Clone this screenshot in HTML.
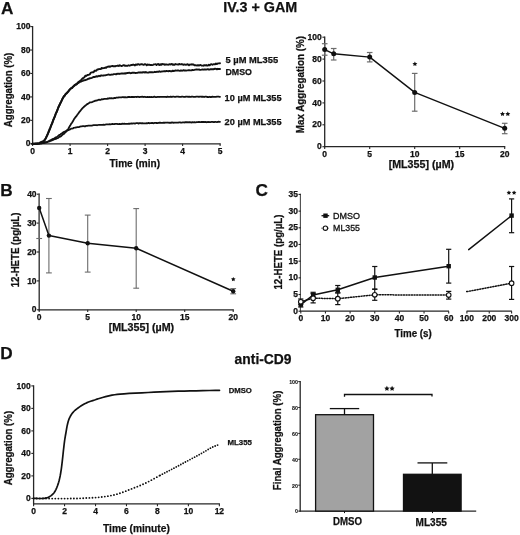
<!DOCTYPE html>
<html><head><meta charset="utf-8"><style>
html,body{margin:0;padding:0;background:#fff;}
svg{display:block;font-family:"Liberation Sans", sans-serif;will-change:transform;}
</style></head><body>
<svg width="520" height="535" viewBox="0 0 520 535">
<rect width="520" height="535" fill="#fff"/>
<text x="1.00" y="13.60" font-size="17.2" font-weight="bold" fill="#111"  stroke="#111" stroke-width="0.25">A</text>
<text x="0.20" y="195.60" font-size="17.2" font-weight="bold" fill="#111"  stroke="#111" stroke-width="0.25">B</text>
<text x="255.60" y="195.60" font-size="17.2" font-weight="bold" fill="#111"  stroke="#111" stroke-width="0.25">C</text>
<text x="0.30" y="359.00" font-size="17.2" font-weight="bold" fill="#111"  stroke="#111" stroke-width="0.25">D</text>
<text x="223.30" y="12.10" font-size="14.7" font-weight="bold" textLength="74.00" lengthAdjust="spacingAndGlyphs" fill="#111"  stroke="#111" stroke-width="0.25">IV.3 + GAM</text>
<text x="234.60" y="363.80" font-size="14.5" font-weight="bold" textLength="57.00" lengthAdjust="spacingAndGlyphs" fill="#111"  stroke="#111" stroke-width="0.25">anti-CD9</text>
<line x1="32.60" y1="26.00" x2="32.60" y2="144.40" stroke="#262626" stroke-width="1.3" />
<line x1="32.00" y1="143.80" x2="220.70" y2="143.80" stroke="#262626" stroke-width="1.3" />
<line x1="30.30" y1="143.80" x2="32.60" y2="143.80" stroke="#262626" stroke-width="1.1" />
<text x="30.40" y="146.40" font-size="8.5" font-weight="bold" text-anchor="end" fill="#111"  stroke="#111" stroke-width="0.25">0</text>
<line x1="30.30" y1="120.36" x2="32.60" y2="120.36" stroke="#262626" stroke-width="1.1" />
<text x="30.40" y="122.96" font-size="8.5" font-weight="bold" text-anchor="end" fill="#111"  stroke="#111" stroke-width="0.25">20</text>
<line x1="30.30" y1="96.92" x2="32.60" y2="96.92" stroke="#262626" stroke-width="1.1" />
<text x="30.40" y="99.52" font-size="8.5" font-weight="bold" text-anchor="end" fill="#111"  stroke="#111" stroke-width="0.25">40</text>
<line x1="30.30" y1="73.48" x2="32.60" y2="73.48" stroke="#262626" stroke-width="1.1" />
<text x="30.40" y="76.08" font-size="8.5" font-weight="bold" text-anchor="end" fill="#111"  stroke="#111" stroke-width="0.25">60</text>
<line x1="30.30" y1="50.04" x2="32.60" y2="50.04" stroke="#262626" stroke-width="1.1" />
<text x="30.40" y="52.64" font-size="8.5" font-weight="bold" text-anchor="end" fill="#111"  stroke="#111" stroke-width="0.25">80</text>
<line x1="30.30" y1="26.60" x2="32.60" y2="26.60" stroke="#262626" stroke-width="1.1" />
<text x="30.40" y="29.20" font-size="8.5" font-weight="bold" text-anchor="end" fill="#111"  stroke="#111" stroke-width="0.25">100</text>
<line x1="32.60" y1="143.80" x2="32.60" y2="146.10" stroke="#262626" stroke-width="1.1" />
<text x="32.60" y="153.90" font-size="8.5" font-weight="bold" text-anchor="middle" fill="#111"  stroke="#111" stroke-width="0.25">0</text>
<line x1="70.10" y1="143.80" x2="70.10" y2="146.10" stroke="#262626" stroke-width="1.1" />
<text x="70.10" y="153.90" font-size="8.5" font-weight="bold" text-anchor="middle" fill="#111"  stroke="#111" stroke-width="0.25">1</text>
<line x1="107.60" y1="143.80" x2="107.60" y2="146.10" stroke="#262626" stroke-width="1.1" />
<text x="107.60" y="153.90" font-size="8.5" font-weight="bold" text-anchor="middle" fill="#111"  stroke="#111" stroke-width="0.25">2</text>
<line x1="145.10" y1="143.80" x2="145.10" y2="146.10" stroke="#262626" stroke-width="1.1" />
<text x="145.10" y="153.90" font-size="8.5" font-weight="bold" text-anchor="middle" fill="#111"  stroke="#111" stroke-width="0.25">3</text>
<line x1="182.60" y1="143.80" x2="182.60" y2="146.10" stroke="#262626" stroke-width="1.1" />
<text x="182.60" y="153.90" font-size="8.5" font-weight="bold" text-anchor="middle" fill="#111"  stroke="#111" stroke-width="0.25">4</text>
<line x1="220.10" y1="143.80" x2="220.10" y2="146.10" stroke="#262626" stroke-width="1.1" />
<text x="220.10" y="153.90" font-size="8.5" font-weight="bold" text-anchor="middle" fill="#111"  stroke="#111" stroke-width="0.25">5</text>
<text x="134.70" y="166.80" font-size="10.3" font-weight="bold" text-anchor="middle" textLength="50.60" lengthAdjust="spacingAndGlyphs" fill="#111"  stroke="#111" stroke-width="0.25">Time (min)</text>
<text x="12.30" y="89.95" font-size="10" font-weight="bold" text-anchor="middle" textLength="74.50" lengthAdjust="spacingAndGlyphs" transform="rotate(-90 12.30 89.95)" fill="#111"  stroke="#111" stroke-width="0.25">Aggregation (%)</text>
<polyline points="32.40,143.80 33.30,143.79 34.20,143.78 35.10,143.77 36.00,143.76 36.90,143.74 37.80,143.72 38.70,143.68 39.60,143.63 40.50,143.41 41.40,143.44 42.30,143.19 43.20,143.10 44.10,142.89 45.00,142.38 45.90,142.13 46.80,142.30 47.70,141.73 48.60,141.41 49.50,141.47 50.40,140.87 51.30,140.72 52.20,140.20 53.10,139.93 54.00,139.33 54.90,139.22 55.80,138.97 56.70,138.42 57.60,138.14 58.50,137.69 59.40,136.92 60.30,136.74 61.20,136.05 62.10,135.19 63.00,134.27 63.90,133.89 64.80,132.88 65.70,132.13 66.60,131.23 67.50,129.99 68.40,128.73 69.30,126.96 70.20,125.61 71.10,123.92 72.00,122.74 72.90,121.32 73.80,119.57 74.70,118.26 75.60,117.00 76.50,116.11 77.40,114.61 78.30,113.51 79.20,112.18 80.10,111.16 81.00,109.99 81.90,108.90 82.80,107.99 83.70,107.04 84.60,106.32 85.50,105.39 86.40,104.77 87.30,104.09 88.20,103.60 89.10,102.99 90.00,102.35 90.90,102.36 91.80,102.10 92.70,101.78 93.60,101.33 94.50,101.12 95.40,100.60 96.30,100.67 97.20,100.32 98.10,99.98 99.00,99.68 99.90,99.90 100.80,99.80 101.70,99.19 102.60,99.40 103.50,99.07 104.40,98.82 105.30,98.78 106.20,98.91 107.10,98.86 108.00,98.35 108.90,98.54 109.80,98.16 110.70,98.41 111.60,98.13 112.50,98.31 113.40,98.28 114.30,97.96 115.20,98.13 116.10,97.71 117.00,97.52 117.90,97.70 118.80,97.35 119.70,97.37 120.60,97.42 121.50,97.46 122.40,97.18 123.30,97.07 124.20,97.43 125.10,97.11 126.00,97.39 126.90,97.31 127.80,97.02 128.70,97.02 129.60,97.02 130.50,97.05 131.40,97.01 132.30,96.97 133.20,96.98 134.10,97.12 135.00,96.89 135.90,96.85 136.80,96.99 137.70,96.75 138.60,96.79 139.50,97.14 140.40,96.92 141.30,96.95 142.20,96.70 143.10,96.91 144.00,97.01 144.90,96.74 145.80,97.04 146.70,97.06 147.60,96.78 148.50,97.06 149.40,96.98 150.30,97.09 151.20,96.92 152.10,97.09 153.00,97.11 153.90,96.74 154.80,96.76 155.70,97.06 156.60,97.19 157.50,96.83 158.40,96.92 159.30,96.98 160.20,96.84 161.10,96.85 162.00,96.82 162.90,96.84 163.80,96.95 164.70,96.79 165.60,96.82 166.50,97.01 167.40,96.63 168.30,96.89 169.20,96.97 170.10,96.75 171.00,96.70 171.90,96.99 172.80,96.70 173.70,96.67 174.60,96.78 175.50,96.91 176.40,96.61 177.30,96.72 178.20,96.72 179.10,96.97 180.00,96.77 180.90,96.97 181.80,96.63 182.70,96.71 183.60,96.87 184.50,96.98 185.40,96.76 186.30,96.65 187.20,96.60 188.10,96.80 189.00,96.63 189.90,96.94 190.80,96.96 191.70,96.63 192.60,96.67 193.50,96.94 194.40,96.86 195.30,96.94 196.20,96.71 197.10,96.60 198.00,96.68 198.90,96.93 199.80,96.67 200.70,96.71 201.60,96.75 202.50,96.75 203.40,96.74 204.30,97.00 205.20,96.62 206.10,96.54 207.00,97.01 207.90,96.98 208.80,97.04 209.70,96.76 210.60,97.02 211.50,97.01 212.40,96.66 213.30,96.92 214.20,96.97 215.10,96.88 216.00,96.81 216.90,96.69 217.80,96.72 218.70,96.66 219.60,96.80 220.00,96.80" fill="none" stroke="#111" stroke-width="1.8" stroke-linejoin="round" stroke-linecap="round" />
<polyline points="32.40,143.80 33.30,143.79 34.20,143.78 35.10,143.78 36.00,143.77 36.90,143.75 37.80,143.73 38.70,143.69 39.60,143.63 40.50,143.32 41.40,143.45 42.30,143.12 43.20,143.17 44.10,142.53 45.00,142.70 45.90,142.33 46.80,142.15 47.70,141.78 48.60,141.39 49.50,140.80 50.40,140.08 51.30,139.99 52.20,139.24 53.10,138.83 54.00,138.53 54.90,137.95 55.80,137.37 56.70,137.08 57.60,136.33 58.50,135.59 59.40,134.92 60.30,134.60 61.20,133.78 62.10,133.32 63.00,132.53 63.90,131.90 64.80,131.56 65.70,131.24 66.60,130.50 67.50,130.42 68.40,130.10 69.30,129.68 70.20,129.35 71.10,128.62 72.00,128.63 72.90,128.48 73.80,127.83 74.70,127.72 75.60,127.50 76.50,127.44 77.40,127.21 78.30,127.06 79.20,127.06 80.10,126.52 81.00,126.41 81.90,126.32 82.80,126.20 83.70,126.06 84.60,126.41 85.50,126.25 86.40,125.78 87.30,125.90 88.20,125.72 89.10,125.63 90.00,125.58 90.90,125.65 91.80,125.55 92.70,125.37 93.60,125.22 94.50,125.22 95.40,125.06 96.30,125.21 97.20,125.23 98.10,125.00 99.00,124.79 99.90,124.78 100.80,124.81 101.70,124.86 102.60,124.89 103.50,124.62 104.40,124.77 105.30,124.62 106.20,124.46 107.10,124.37 108.00,124.38 108.90,124.43 109.80,124.23 110.70,124.32 111.60,124.15 112.50,124.00 113.40,124.10 114.30,124.14 115.20,123.80 116.10,123.94 117.00,123.91 117.90,124.11 118.80,124.12 119.70,123.81 120.60,124.05 121.50,123.98 122.40,123.70 123.30,123.78 124.20,123.59 125.10,123.91 126.00,123.81 126.90,123.90 127.80,123.83 128.70,123.74 129.60,123.74 130.50,123.63 131.40,123.38 132.30,123.59 133.20,123.28 134.10,123.32 135.00,123.61 135.90,123.22 136.80,123.21 137.70,123.19 138.60,123.56 139.50,123.18 140.40,123.08 141.30,123.47 142.20,123.08 143.10,123.42 144.00,123.31 144.90,123.37 145.80,123.41 146.70,123.21 147.60,123.30 148.50,122.90 149.40,123.25 150.30,123.10 151.20,123.18 152.10,122.86 153.00,123.16 153.90,123.23 154.80,122.78 155.70,122.89 156.60,122.99 157.50,123.10 158.40,122.79 159.30,122.74 160.20,122.75 161.10,122.92 162.00,122.97 162.90,122.77 163.80,122.73 164.70,122.73 165.60,122.69 166.50,122.70 167.40,122.52 168.30,122.71 169.20,122.92 170.10,122.63 171.00,122.78 171.90,122.46 172.80,122.71 173.70,122.73 174.60,122.67 175.50,122.57 176.40,122.54 177.30,122.60 178.20,122.71 179.10,122.32 180.00,122.28 180.90,122.59 181.80,122.65 182.70,122.44 183.60,122.38 184.50,122.51 185.40,122.22 186.30,122.25 187.20,122.20 188.10,122.38 189.00,122.23 189.90,122.17 190.80,122.38 191.70,122.50 192.60,122.16 193.50,122.34 194.40,122.18 195.30,122.39 196.20,122.24 197.10,122.06 198.00,122.03 198.90,121.91 199.80,122.13 200.70,122.06 201.60,121.94 202.50,122.02 203.40,121.99 204.30,122.20 205.20,121.87 206.10,122.28 207.00,122.01 207.90,122.05 208.80,121.97 209.70,122.14 210.60,122.12 211.50,121.97 212.40,121.92 213.30,122.02 214.20,122.08 215.10,121.83 216.00,121.98 216.90,122.08 217.80,121.82 218.70,121.69 219.60,121.81 220.00,121.80" fill="none" stroke="#111" stroke-width="1.8" stroke-linejoin="round" stroke-linecap="round" />
<polyline points="32.40,143.80 33.30,143.81 34.20,143.82 35.10,143.82 36.00,143.79 36.90,143.71 37.80,143.56 38.70,143.34 39.60,143.03 40.50,142.46 41.40,142.40 42.30,141.97 43.20,141.70 44.10,141.01 45.00,139.66 45.90,138.17 46.80,136.22 47.70,134.05 48.60,132.25 49.50,130.05 50.40,127.78 51.30,125.08 52.20,123.26 53.10,120.62 54.00,118.44 54.90,116.40 55.80,113.70 56.70,111.48 57.60,109.78 58.50,107.24 59.40,105.26 60.30,103.48 61.20,101.71 62.10,99.49 63.00,98.05 63.90,96.61 64.80,95.33 65.70,93.98 66.60,93.19 67.50,92.45 68.40,91.09 69.30,90.28 70.20,89.10 71.10,88.36 72.00,87.80 72.90,86.59 73.80,86.33 74.70,85.57 75.60,84.30 76.50,84.24 77.40,83.27 78.30,83.02 79.20,82.52 80.10,81.74 81.00,81.57 81.90,81.15 82.80,80.91 83.70,80.24 84.60,80.31 85.50,80.16 86.40,79.70 87.30,79.34 88.20,78.76 89.10,78.69 90.00,78.20 90.90,78.10 91.80,77.79 92.70,77.45 93.60,76.92 94.50,77.01 95.40,76.78 96.30,76.26 97.20,76.58 98.10,76.26 99.00,75.74 99.90,76.17 100.80,75.50 101.70,75.51 102.60,75.67 103.50,75.48 104.40,75.34 105.30,75.31 106.20,75.08 107.10,74.88 108.00,74.68 108.90,74.51 109.80,74.87 110.70,74.81 111.60,74.57 112.50,74.62 113.40,74.26 114.30,74.11 115.20,74.10 116.10,74.36 117.00,73.70 117.90,73.94 118.80,73.68 119.70,73.96 120.60,73.60 121.50,73.51 122.40,73.48 123.30,73.51 124.20,73.60 125.10,73.24 126.00,73.52 126.90,72.94 127.80,72.99 128.70,72.82 129.60,72.77 130.50,73.19 131.40,73.10 132.30,72.68 133.20,72.64 134.10,72.75 135.00,72.94 135.90,72.95 136.80,72.86 137.70,72.71 138.60,72.36 139.50,72.50 140.40,72.32 141.30,72.51 142.20,72.50 143.10,72.22 144.00,72.22 144.90,72.57 145.80,72.03 146.70,72.54 147.60,72.58 148.50,72.58 149.40,72.15 150.30,72.22 151.20,72.19 152.10,72.17 153.00,72.36 153.90,72.10 154.80,71.77 155.70,72.10 156.60,71.78 157.50,71.80 158.40,71.83 159.30,71.27 160.20,71.74 161.10,71.61 162.00,71.44 162.90,71.40 163.80,71.31 164.70,71.07 165.60,71.26 166.50,70.86 167.40,71.14 168.30,71.20 169.20,71.01 170.10,71.05 171.00,71.28 171.90,71.19 172.80,70.62 173.70,71.04 174.60,70.88 175.50,70.43 176.40,70.61 177.30,70.48 178.20,70.33 179.10,70.61 180.00,70.85 180.90,70.38 181.80,70.73 182.70,70.57 183.60,70.14 184.50,70.61 185.40,70.39 186.30,70.58 187.20,70.40 188.10,70.38 189.00,70.07 189.90,70.35 190.80,70.40 191.70,70.32 192.60,69.98 193.50,70.17 194.40,69.94 195.30,69.64 196.20,69.56 197.10,69.54 198.00,69.59 198.90,69.52 199.80,69.72 200.70,69.82 201.60,69.67 202.50,69.55 203.40,69.68 204.30,69.40 205.20,69.47 206.10,69.64 207.00,69.36 207.90,69.17 208.80,69.64 209.70,69.48 210.60,69.20 211.50,69.18 212.40,69.26 213.30,69.28 214.20,68.99 215.10,68.80 216.00,68.92 216.90,69.29 217.80,68.82 218.70,69.01 219.60,69.01 220.00,69.00" fill="none" stroke="#111" stroke-width="1.9" stroke-linejoin="round" stroke-linecap="round" />
<polyline points="32.40,143.80 33.30,143.81 34.20,143.82 35.10,143.82 36.00,143.79 36.90,143.71 37.80,143.56 38.70,143.34 39.60,143.03 40.50,142.31 41.40,141.93 42.30,141.49 43.20,141.28 44.10,140.40 45.00,139.32 45.90,137.96 46.80,136.02 47.70,134.26 48.60,131.62 49.50,129.27 50.40,127.44 51.30,125.15 52.20,123.22 53.10,120.26 54.00,118.39 54.90,116.12 55.80,113.47 56.70,112.28 57.60,109.23 58.50,106.94 59.40,105.33 60.30,103.05 61.20,101.72 62.10,99.67 63.00,97.75 63.90,96.16 64.80,95.59 65.70,93.94 66.60,93.45 67.50,92.09 68.40,91.65 69.30,90.03 70.20,89.09 71.10,88.26 72.00,88.03 72.90,87.02 73.80,85.93 74.70,84.91 75.60,84.84 76.50,84.44 77.40,83.35 78.30,82.05 79.20,81.43 80.10,80.83 81.00,80.19 81.90,79.21 82.80,78.22 83.70,77.81 84.60,77.10 85.50,75.61 86.40,75.96 87.30,75.04 88.20,74.98 89.10,74.60 90.00,74.09 90.90,72.57 91.80,72.39 92.70,72.26 93.60,72.18 94.50,70.78 95.40,70.56 96.30,70.74 97.20,69.52 98.10,69.43 99.00,69.02 99.90,69.08 100.80,69.06 101.70,67.97 102.60,68.35 103.50,68.12 104.40,68.02 105.30,67.51 106.20,67.72 107.10,66.91 108.00,66.78 108.90,66.41 109.80,66.87 110.70,66.42 111.60,66.09 112.50,65.89 113.40,66.41 114.30,66.21 115.20,66.27 116.10,65.85 117.00,65.91 117.90,65.49 118.80,66.06 119.70,65.25 120.60,65.70 121.50,65.97 122.40,65.84 123.30,65.16 124.20,65.26 125.10,65.89 126.00,65.62 126.90,65.83 127.80,65.77 128.70,65.25 129.60,65.68 130.50,65.45 131.40,64.95 132.30,64.93 133.20,64.55 134.10,64.85 135.00,65.40 135.90,64.41 136.80,64.87 137.70,64.32 138.60,64.24 139.50,64.82 140.40,64.34 141.30,64.10 142.20,64.20 143.10,64.75 144.00,64.70 144.90,64.11 145.80,64.39 146.70,65.25 147.60,64.46 148.50,64.86 149.40,64.71 150.30,65.10 151.20,64.90 152.10,65.08 153.00,64.78 153.90,64.37 154.80,64.33 155.70,64.19 156.60,64.98 157.50,64.16 158.40,64.04 159.30,65.04 160.20,64.17 161.10,64.91 162.00,63.99 162.90,64.39 163.80,64.11 164.70,64.76 165.60,64.51 166.50,64.53 167.40,64.66 168.30,64.77 169.20,64.19 170.10,64.47 171.00,64.29 171.90,63.92 172.80,64.72 173.70,64.46 174.60,64.71 175.50,64.04 176.40,64.42 177.30,64.34 178.20,64.64 179.10,63.94 180.00,64.25 180.90,64.42 181.80,63.99 182.70,64.54 183.60,64.76 184.50,64.44 185.40,64.71 186.30,64.69 187.20,64.29 188.10,64.47 189.00,65.21 189.90,64.51 190.80,64.64 191.70,64.29 192.60,64.47 193.50,64.44 194.40,65.31 195.30,65.13 196.20,65.33 197.10,65.50 198.00,65.13 198.90,65.52 199.80,65.13 200.70,65.04 201.60,65.66 202.50,65.63 203.40,65.70 204.30,65.19 205.20,65.49 206.10,65.05 207.00,65.65 207.90,65.50 208.80,64.73 209.70,65.35 210.60,64.43 211.50,64.22 212.40,64.79 213.30,64.20 214.20,64.32 215.10,64.31 216.00,63.49 216.90,64.10 217.80,63.40 218.70,63.39 219.60,63.28 220.00,63.20" fill="none" stroke="#111" stroke-width="1.9" stroke-linejoin="round" stroke-linecap="round" />
<text x="225.50" y="63.30" font-size="9.5" font-weight="bold" textLength="52.60" lengthAdjust="spacingAndGlyphs" fill="#111"  stroke="#111" stroke-width="0.25">5 µM ML355</text>
<text x="225.50" y="74.90" font-size="9.3" font-weight="bold" textLength="26.40" lengthAdjust="spacingAndGlyphs" fill="#111"  stroke="#111" stroke-width="0.25">DMSO</text>
<text x="224.60" y="100.50" font-size="9.5" font-weight="bold" textLength="57.00" lengthAdjust="spacingAndGlyphs" fill="#111"  stroke="#111" stroke-width="0.25">10 µM ML355</text>
<text x="224.60" y="124.60" font-size="9.5" font-weight="bold" textLength="57.00" lengthAdjust="spacingAndGlyphs" fill="#111"  stroke="#111" stroke-width="0.25">20 µM ML355</text>
<line x1="324.70" y1="36.60" x2="324.70" y2="147.30" stroke="#262626" stroke-width="1.3" />
<line x1="324.10" y1="146.70" x2="505.30" y2="146.70" stroke="#262626" stroke-width="1.3" />
<line x1="322.40" y1="146.70" x2="324.70" y2="146.70" stroke="#262626" stroke-width="1.1" />
<text x="321.80" y="149.30" font-size="8.5" font-weight="bold" text-anchor="end" fill="#111"  stroke="#111" stroke-width="0.25">0</text>
<line x1="322.40" y1="124.80" x2="324.70" y2="124.80" stroke="#262626" stroke-width="1.1" />
<text x="321.80" y="127.40" font-size="8.5" font-weight="bold" text-anchor="end" fill="#111"  stroke="#111" stroke-width="0.25">20</text>
<line x1="322.40" y1="102.90" x2="324.70" y2="102.90" stroke="#262626" stroke-width="1.1" />
<text x="321.80" y="105.50" font-size="8.5" font-weight="bold" text-anchor="end" fill="#111"  stroke="#111" stroke-width="0.25">40</text>
<line x1="322.40" y1="81.00" x2="324.70" y2="81.00" stroke="#262626" stroke-width="1.1" />
<text x="321.80" y="83.60" font-size="8.5" font-weight="bold" text-anchor="end" fill="#111"  stroke="#111" stroke-width="0.25">60</text>
<line x1="322.40" y1="59.10" x2="324.70" y2="59.10" stroke="#262626" stroke-width="1.1" />
<text x="321.80" y="61.70" font-size="8.5" font-weight="bold" text-anchor="end" fill="#111"  stroke="#111" stroke-width="0.25">80</text>
<line x1="322.40" y1="37.20" x2="324.70" y2="37.20" stroke="#262626" stroke-width="1.1" />
<text x="321.80" y="39.80" font-size="8.5" font-weight="bold" text-anchor="end" fill="#111"  stroke="#111" stroke-width="0.25">100</text>
<line x1="324.70" y1="146.70" x2="324.70" y2="149.00" stroke="#262626" stroke-width="1.1" />
<text x="324.70" y="156.80" font-size="8.5" font-weight="bold" text-anchor="middle" fill="#111"  stroke="#111" stroke-width="0.25">0</text>
<line x1="369.70" y1="146.70" x2="369.70" y2="149.00" stroke="#262626" stroke-width="1.1" />
<text x="369.70" y="156.80" font-size="8.5" font-weight="bold" text-anchor="middle" fill="#111"  stroke="#111" stroke-width="0.25">5</text>
<line x1="414.70" y1="146.70" x2="414.70" y2="149.00" stroke="#262626" stroke-width="1.1" />
<text x="414.70" y="156.80" font-size="8.5" font-weight="bold" text-anchor="middle" fill="#111"  stroke="#111" stroke-width="0.25">10</text>
<line x1="459.70" y1="146.70" x2="459.70" y2="149.00" stroke="#262626" stroke-width="1.1" />
<text x="459.70" y="156.80" font-size="8.5" font-weight="bold" text-anchor="middle" fill="#111"  stroke="#111" stroke-width="0.25">15</text>
<line x1="504.70" y1="146.70" x2="504.70" y2="149.00" stroke="#262626" stroke-width="1.1" />
<text x="504.70" y="156.80" font-size="8.5" font-weight="bold" text-anchor="middle" fill="#111"  stroke="#111" stroke-width="0.25">20</text>
<text x="421.40" y="167.50" font-size="10.6" font-weight="bold" text-anchor="middle" textLength="65.50" lengthAdjust="spacingAndGlyphs" fill="#111"  stroke="#111" stroke-width="0.25">[ML355] (µM)</text>
<text x="303.80" y="84.60" font-size="10.5" font-weight="bold" text-anchor="middle" textLength="97.20" lengthAdjust="spacingAndGlyphs" transform="rotate(-90 303.80 84.60)" fill="#111"  stroke="#111" stroke-width="0.25">Max Aggregation (%)</text>
<line x1="324.70" y1="43.70" x2="324.70" y2="55.20" stroke="#6c6c6c" stroke-width="1.2" />
<line x1="321.90" y1="43.70" x2="327.50" y2="43.70" stroke="#6c6c6c" stroke-width="1.2" />
<line x1="321.90" y1="55.20" x2="327.50" y2="55.20" stroke="#6c6c6c" stroke-width="1.2" />
<line x1="333.70" y1="48.50" x2="333.70" y2="60.00" stroke="#6c6c6c" stroke-width="1.2" />
<line x1="330.90" y1="48.50" x2="336.50" y2="48.50" stroke="#6c6c6c" stroke-width="1.2" />
<line x1="330.90" y1="60.00" x2="336.50" y2="60.00" stroke="#6c6c6c" stroke-width="1.2" />
<line x1="369.70" y1="52.50" x2="369.70" y2="61.90" stroke="#6c6c6c" stroke-width="1.2" />
<line x1="366.90" y1="52.50" x2="372.50" y2="52.50" stroke="#6c6c6c" stroke-width="1.2" />
<line x1="366.90" y1="61.90" x2="372.50" y2="61.90" stroke="#6c6c6c" stroke-width="1.2" />
<line x1="414.70" y1="73.40" x2="414.70" y2="111.20" stroke="#6c6c6c" stroke-width="1.2" />
<line x1="411.90" y1="73.40" x2="417.50" y2="73.40" stroke="#6c6c6c" stroke-width="1.2" />
<line x1="411.90" y1="111.20" x2="417.50" y2="111.20" stroke="#6c6c6c" stroke-width="1.2" />
<line x1="504.70" y1="123.30" x2="504.70" y2="133.70" stroke="#6c6c6c" stroke-width="1.2" />
<line x1="501.90" y1="123.30" x2="507.50" y2="123.30" stroke="#6c6c6c" stroke-width="1.2" />
<line x1="501.90" y1="133.70" x2="507.50" y2="133.70" stroke="#6c6c6c" stroke-width="1.2" />
<polyline points="324.70,49.60 333.70,53.80 369.70,57.10 414.70,92.40 504.70,128.30" fill="none" stroke="#111" stroke-width="1.4" stroke-linejoin="round" stroke-linecap="round" />
<circle cx="324.70" cy="49.60" r="2.5" fill="#111"/>
<circle cx="333.70" cy="53.80" r="2.5" fill="#111"/>
<circle cx="369.70" cy="57.10" r="2.5" fill="#111"/>
<circle cx="414.70" cy="92.40" r="2.5" fill="#111"/>
<circle cx="504.70" cy="128.30" r="2.5" fill="#111"/>
<polygon points="414.90,61.40 415.63,62.99 417.37,63.20 416.09,64.39 416.43,66.10 414.90,65.25 413.37,66.10 413.71,64.39 412.43,63.20 414.17,62.99" fill="#111"/>
<polygon points="502.50,111.40 503.26,112.95 504.97,113.20 503.74,114.40 504.03,116.10 502.50,115.30 500.97,116.10 501.26,114.40 500.03,113.20 501.74,112.95" fill="#111"/>
<polygon points="507.80,111.40 508.56,112.95 510.27,113.20 509.04,114.40 509.33,116.10 507.80,115.30 506.27,116.10 506.56,114.40 505.33,113.20 507.04,112.95" fill="#111"/>
<line x1="39.20" y1="193.60" x2="39.20" y2="310.40" stroke="#262626" stroke-width="1.3" />
<line x1="38.60" y1="309.80" x2="233.80" y2="309.80" stroke="#262626" stroke-width="1.3" />
<line x1="36.90" y1="309.80" x2="39.20" y2="309.80" stroke="#262626" stroke-width="1.1" />
<text x="36.60" y="312.40" font-size="8.5" font-weight="bold" text-anchor="end" fill="#111"  stroke="#111" stroke-width="0.25">0</text>
<line x1="36.90" y1="280.90" x2="39.20" y2="280.90" stroke="#262626" stroke-width="1.1" />
<text x="36.60" y="283.50" font-size="8.5" font-weight="bold" text-anchor="end" fill="#111"  stroke="#111" stroke-width="0.25">10</text>
<line x1="36.90" y1="252.00" x2="39.20" y2="252.00" stroke="#262626" stroke-width="1.1" />
<text x="36.60" y="254.60" font-size="8.5" font-weight="bold" text-anchor="end" fill="#111"  stroke="#111" stroke-width="0.25">20</text>
<line x1="36.90" y1="223.10" x2="39.20" y2="223.10" stroke="#262626" stroke-width="1.1" />
<text x="36.60" y="225.70" font-size="8.5" font-weight="bold" text-anchor="end" fill="#111"  stroke="#111" stroke-width="0.25">30</text>
<line x1="36.90" y1="194.20" x2="39.20" y2="194.20" stroke="#262626" stroke-width="1.1" />
<text x="36.60" y="196.80" font-size="8.5" font-weight="bold" text-anchor="end" fill="#111"  stroke="#111" stroke-width="0.25">40</text>
<line x1="39.20" y1="309.80" x2="39.20" y2="312.10" stroke="#262626" stroke-width="1.1" />
<text x="39.20" y="319.70" font-size="8.5" font-weight="bold" text-anchor="middle" fill="#111"  stroke="#111" stroke-width="0.25">0</text>
<line x1="87.70" y1="309.80" x2="87.70" y2="312.10" stroke="#262626" stroke-width="1.1" />
<text x="87.70" y="319.70" font-size="8.5" font-weight="bold" text-anchor="middle" fill="#111"  stroke="#111" stroke-width="0.25">5</text>
<line x1="136.20" y1="309.80" x2="136.20" y2="312.10" stroke="#262626" stroke-width="1.1" />
<text x="136.20" y="319.70" font-size="8.5" font-weight="bold" text-anchor="middle" fill="#111"  stroke="#111" stroke-width="0.25">10</text>
<line x1="184.70" y1="309.80" x2="184.70" y2="312.10" stroke="#262626" stroke-width="1.1" />
<text x="184.70" y="319.70" font-size="8.5" font-weight="bold" text-anchor="middle" fill="#111"  stroke="#111" stroke-width="0.25">15</text>
<line x1="233.20" y1="309.80" x2="233.20" y2="312.10" stroke="#262626" stroke-width="1.1" />
<text x="233.20" y="319.70" font-size="8.5" font-weight="bold" text-anchor="middle" fill="#111"  stroke="#111" stroke-width="0.25">20</text>
<text x="141.40" y="331.10" font-size="10.2" font-weight="bold" text-anchor="middle" textLength="65.50" lengthAdjust="spacingAndGlyphs" fill="#111"  stroke="#111" stroke-width="0.25">[ML355] (µM)</text>
<text x="18.70" y="249.95" font-size="10" font-weight="bold" text-anchor="middle" textLength="74.70" lengthAdjust="spacingAndGlyphs" transform="rotate(-90 18.70 249.95)" fill="#111"  stroke="#111" stroke-width="0.25">12-HETE (pg/µL)</text>
<line x1="39.20" y1="194.20" x2="39.20" y2="238.50" stroke="#6c6c6c" stroke-width="1.1" />
<line x1="36.30" y1="238.50" x2="42.10" y2="238.50" stroke="#6c6c6c" stroke-width="1.1" />
<line x1="48.90" y1="198.50" x2="48.90" y2="272.90" stroke="#6c6c6c" stroke-width="1.1" />
<line x1="46.00" y1="198.50" x2="51.80" y2="198.50" stroke="#6c6c6c" stroke-width="1.1" />
<line x1="46.00" y1="272.90" x2="51.80" y2="272.90" stroke="#6c6c6c" stroke-width="1.1" />
<line x1="87.70" y1="215.10" x2="87.70" y2="272.10" stroke="#6c6c6c" stroke-width="1.1" />
<line x1="84.80" y1="215.10" x2="90.60" y2="215.10" stroke="#6c6c6c" stroke-width="1.1" />
<line x1="84.80" y1="272.10" x2="90.60" y2="272.10" stroke="#6c6c6c" stroke-width="1.1" />
<line x1="136.20" y1="208.60" x2="136.20" y2="288.20" stroke="#6c6c6c" stroke-width="1.1" />
<line x1="133.30" y1="208.60" x2="139.10" y2="208.60" stroke="#6c6c6c" stroke-width="1.1" />
<line x1="133.30" y1="288.20" x2="139.10" y2="288.20" stroke="#6c6c6c" stroke-width="1.1" />
<line x1="233.20" y1="288.60" x2="233.20" y2="293.80" stroke="#6c6c6c" stroke-width="1.1" />
<line x1="230.30" y1="288.60" x2="236.10" y2="288.60" stroke="#6c6c6c" stroke-width="1.1" />
<line x1="230.30" y1="293.80" x2="236.10" y2="293.80" stroke="#6c6c6c" stroke-width="1.1" />
<polyline points="39.20,208.00 48.90,235.60 87.70,243.30 136.20,248.30 233.20,291.20" fill="none" stroke="#111" stroke-width="1.5" stroke-linejoin="round" stroke-linecap="round" />
<circle cx="39.20" cy="208.00" r="2.2" fill="#111"/>
<circle cx="48.90" cy="235.60" r="2.2" fill="#111"/>
<circle cx="87.70" cy="243.30" r="2.2" fill="#111"/>
<circle cx="136.20" cy="248.30" r="2.2" fill="#111"/>
<circle cx="233.20" cy="291.20" r="2.2" fill="#111"/>
<polygon points="233.30,276.90 234.01,278.33 235.58,278.56 234.44,279.67 234.71,281.24 233.30,280.50 231.89,281.24 232.16,279.67 231.02,278.56 232.59,278.33" fill="#111"/>
<line x1="300.40" y1="193.84" x2="300.40" y2="311.80" stroke="#4a4a4a" stroke-width="1.1" />
<line x1="300.20" y1="311.20" x2="449.00" y2="311.20" stroke="#262626" stroke-width="1.3" />
<line x1="466.60" y1="311.20" x2="511.90" y2="311.20" stroke="#262626" stroke-width="1.3" />
<line x1="298.50" y1="311.20" x2="300.80" y2="311.20" stroke="#262626" stroke-width="1.1" />
<text x="298.00" y="313.80" font-size="8.5" font-weight="bold" text-anchor="end" fill="#111"  stroke="#111" stroke-width="0.25">0</text>
<line x1="298.50" y1="294.52" x2="300.80" y2="294.52" stroke="#262626" stroke-width="1.1" />
<text x="298.00" y="297.12" font-size="8.5" font-weight="bold" text-anchor="end" fill="#111"  stroke="#111" stroke-width="0.25">5</text>
<line x1="298.50" y1="277.84" x2="300.80" y2="277.84" stroke="#262626" stroke-width="1.1" />
<text x="298.00" y="280.44" font-size="8.5" font-weight="bold" text-anchor="end" fill="#111"  stroke="#111" stroke-width="0.25">10</text>
<line x1="298.50" y1="261.16" x2="300.80" y2="261.16" stroke="#262626" stroke-width="1.1" />
<text x="298.00" y="263.76" font-size="8.5" font-weight="bold" text-anchor="end" fill="#111"  stroke="#111" stroke-width="0.25">15</text>
<line x1="298.50" y1="244.48" x2="300.80" y2="244.48" stroke="#262626" stroke-width="1.1" />
<text x="298.00" y="247.08" font-size="8.5" font-weight="bold" text-anchor="end" fill="#111"  stroke="#111" stroke-width="0.25">20</text>
<line x1="298.50" y1="227.80" x2="300.80" y2="227.80" stroke="#262626" stroke-width="1.1" />
<text x="298.00" y="230.40" font-size="8.5" font-weight="bold" text-anchor="end" fill="#111"  stroke="#111" stroke-width="0.25">25</text>
<line x1="298.50" y1="211.12" x2="300.80" y2="211.12" stroke="#262626" stroke-width="1.1" />
<text x="298.00" y="213.72" font-size="8.5" font-weight="bold" text-anchor="end" fill="#111"  stroke="#111" stroke-width="0.25">30</text>
<line x1="298.50" y1="194.44" x2="300.80" y2="194.44" stroke="#262626" stroke-width="1.1" />
<text x="298.00" y="197.04" font-size="8.5" font-weight="bold" text-anchor="end" fill="#111"  stroke="#111" stroke-width="0.25">35</text>
<line x1="300.80" y1="311.20" x2="300.80" y2="313.50" stroke="#262626" stroke-width="1.1" />
<text x="300.80" y="320.80" font-size="8.5" font-weight="bold" text-anchor="middle" fill="#111"  stroke="#111" stroke-width="0.25">0</text>
<line x1="325.45" y1="311.20" x2="325.45" y2="313.50" stroke="#262626" stroke-width="1.1" />
<text x="325.45" y="320.80" font-size="8.5" font-weight="bold" text-anchor="middle" fill="#111"  stroke="#111" stroke-width="0.25">10</text>
<line x1="350.10" y1="311.20" x2="350.10" y2="313.50" stroke="#262626" stroke-width="1.1" />
<text x="350.10" y="320.80" font-size="8.5" font-weight="bold" text-anchor="middle" fill="#111"  stroke="#111" stroke-width="0.25">20</text>
<line x1="374.75" y1="311.20" x2="374.75" y2="313.50" stroke="#262626" stroke-width="1.1" />
<text x="374.75" y="320.80" font-size="8.5" font-weight="bold" text-anchor="middle" fill="#111"  stroke="#111" stroke-width="0.25">30</text>
<line x1="399.40" y1="311.20" x2="399.40" y2="313.50" stroke="#262626" stroke-width="1.1" />
<text x="399.40" y="320.80" font-size="8.5" font-weight="bold" text-anchor="middle" fill="#111"  stroke="#111" stroke-width="0.25">40</text>
<line x1="424.05" y1="311.20" x2="424.05" y2="313.50" stroke="#262626" stroke-width="1.1" />
<text x="424.05" y="320.80" font-size="8.5" font-weight="bold" text-anchor="middle" fill="#111"  stroke="#111" stroke-width="0.25">50</text>
<line x1="448.70" y1="311.20" x2="448.70" y2="313.50" stroke="#262626" stroke-width="1.1" />
<text x="448.70" y="320.80" font-size="8.5" font-weight="bold" text-anchor="middle" fill="#111"  stroke="#111" stroke-width="0.25">60</text>
<line x1="466.90" y1="311.20" x2="466.90" y2="313.50" stroke="#262626" stroke-width="1.1" />
<text x="466.90" y="320.80" font-size="8.5" font-weight="bold" text-anchor="middle" fill="#111"  stroke="#111" stroke-width="0.25">100</text>
<line x1="489.25" y1="311.20" x2="489.25" y2="313.50" stroke="#262626" stroke-width="1.1" />
<text x="489.25" y="320.80" font-size="8.5" font-weight="bold" text-anchor="middle" fill="#111"  stroke="#111" stroke-width="0.25">200</text>
<line x1="511.60" y1="311.20" x2="511.60" y2="313.50" stroke="#262626" stroke-width="1.1" />
<text x="511.60" y="320.80" font-size="8.5" font-weight="bold" text-anchor="middle" fill="#111"  stroke="#111" stroke-width="0.25">300</text>
<text x="413.15" y="337.40" font-size="10.5" font-weight="bold" text-anchor="middle" textLength="37.30" lengthAdjust="spacingAndGlyphs" fill="#111"  stroke="#111" stroke-width="0.25">Time (s)</text>
<text x="282.30" y="252.05" font-size="10.8" font-weight="bold" text-anchor="middle" textLength="75.10" lengthAdjust="spacingAndGlyphs" transform="rotate(-90 282.30 252.05)" fill="#111"  stroke="#111" stroke-width="0.25">12-HETE (pg/µL)</text>
<line x1="300.80" y1="302.00" x2="300.80" y2="307.00" stroke="#111" stroke-width="1.2" />
<line x1="298.20" y1="302.00" x2="303.40" y2="302.00" stroke="#111" stroke-width="1.2" />
<line x1="298.20" y1="307.00" x2="303.40" y2="307.00" stroke="#111" stroke-width="1.2" />
<line x1="313.12" y1="292.30" x2="313.12" y2="297.90" stroke="#111" stroke-width="1.2" />
<line x1="310.52" y1="292.30" x2="315.73" y2="292.30" stroke="#111" stroke-width="1.2" />
<line x1="310.52" y1="297.90" x2="315.73" y2="297.90" stroke="#111" stroke-width="1.2" />
<line x1="337.77" y1="285.50" x2="337.77" y2="292.80" stroke="#111" stroke-width="1.2" />
<line x1="335.17" y1="285.50" x2="340.38" y2="285.50" stroke="#111" stroke-width="1.2" />
<line x1="335.17" y1="292.80" x2="340.38" y2="292.80" stroke="#111" stroke-width="1.2" />
<line x1="374.75" y1="266.50" x2="374.75" y2="289.10" stroke="#111" stroke-width="1.2" />
<line x1="372.15" y1="266.50" x2="377.35" y2="266.50" stroke="#111" stroke-width="1.2" />
<line x1="372.15" y1="289.10" x2="377.35" y2="289.10" stroke="#111" stroke-width="1.2" />
<line x1="448.70" y1="249.30" x2="448.70" y2="283.10" stroke="#111" stroke-width="1.2" />
<line x1="446.10" y1="249.30" x2="451.30" y2="249.30" stroke="#111" stroke-width="1.2" />
<line x1="446.10" y1="283.10" x2="451.30" y2="283.10" stroke="#111" stroke-width="1.2" />
<line x1="300.80" y1="299.00" x2="300.80" y2="304.60" stroke="#111" stroke-width="1.2" />
<line x1="298.20" y1="299.00" x2="303.40" y2="299.00" stroke="#111" stroke-width="1.2" />
<line x1="298.20" y1="304.60" x2="303.40" y2="304.60" stroke="#111" stroke-width="1.2" />
<line x1="313.12" y1="293.60" x2="313.12" y2="302.90" stroke="#111" stroke-width="1.2" />
<line x1="310.52" y1="293.60" x2="315.73" y2="293.60" stroke="#111" stroke-width="1.2" />
<line x1="310.52" y1="302.90" x2="315.73" y2="302.90" stroke="#111" stroke-width="1.2" />
<line x1="337.77" y1="292.90" x2="337.77" y2="304.60" stroke="#111" stroke-width="1.2" />
<line x1="335.17" y1="292.90" x2="340.38" y2="292.90" stroke="#111" stroke-width="1.2" />
<line x1="335.17" y1="304.60" x2="340.38" y2="304.60" stroke="#111" stroke-width="1.2" />
<line x1="374.75" y1="289.30" x2="374.75" y2="300.30" stroke="#111" stroke-width="1.2" />
<line x1="372.15" y1="289.30" x2="377.35" y2="289.30" stroke="#111" stroke-width="1.2" />
<line x1="372.15" y1="300.30" x2="377.35" y2="300.30" stroke="#111" stroke-width="1.2" />
<line x1="448.70" y1="291.40" x2="448.70" y2="299.10" stroke="#111" stroke-width="1.2" />
<line x1="446.10" y1="291.40" x2="451.30" y2="291.40" stroke="#111" stroke-width="1.2" />
<line x1="446.10" y1="299.10" x2="451.30" y2="299.10" stroke="#111" stroke-width="1.2" />
<line x1="511.60" y1="198.90" x2="511.60" y2="232.70" stroke="#111" stroke-width="1.2" />
<line x1="509.00" y1="198.90" x2="514.20" y2="198.90" stroke="#111" stroke-width="1.2" />
<line x1="509.00" y1="232.70" x2="514.20" y2="232.70" stroke="#111" stroke-width="1.2" />
<line x1="511.60" y1="266.50" x2="511.60" y2="299.40" stroke="#111" stroke-width="1.2" />
<line x1="509.00" y1="266.50" x2="514.20" y2="266.50" stroke="#111" stroke-width="1.2" />
<line x1="509.00" y1="299.40" x2="514.20" y2="299.40" stroke="#111" stroke-width="1.2" />
<polyline points="300.80,304.60 313.12,295.10 337.77,289.80 374.75,277.50 448.70,266.20" fill="none" stroke="#111" stroke-width="1.5" stroke-linejoin="round" stroke-linecap="round" />
<polyline points="468.70,249.60 511.60,215.60" fill="none" stroke="#111" stroke-width="1.5" stroke-linejoin="round" stroke-linecap="round" />
<polyline points="300.80,301.80 313.12,298.20 337.77,298.70 374.75,294.80 448.70,295.10" fill="none" stroke="#111" stroke-width="1.5" stroke-linejoin="round" stroke-linecap="round" stroke-dasharray="1.1 1.55" stroke-linecap="butt"/>
<polyline points="466.70,291.60 511.60,283.20" fill="none" stroke="#111" stroke-width="1.5" stroke-linejoin="round" stroke-linecap="round" stroke-dasharray="1.1 1.55" stroke-linecap="butt"/>
<rect x="298.60" y="302.40" width="4.4" height="4.4" fill="#111"/>
<rect x="310.93" y="292.90" width="4.4" height="4.4" fill="#111"/>
<rect x="335.57" y="287.60" width="4.4" height="4.4" fill="#111"/>
<rect x="372.55" y="275.30" width="4.4" height="4.4" fill="#111"/>
<rect x="446.50" y="264.00" width="4.4" height="4.4" fill="#111"/>
<rect x="509.40" y="213.40" width="4.4" height="4.4" fill="#111"/>
<circle cx="300.80" cy="301.80" r="2.3" fill="#fff" stroke="#111" stroke-width="1.1"/>
<circle cx="313.12" cy="298.20" r="2.3" fill="#fff" stroke="#111" stroke-width="1.1"/>
<circle cx="337.77" cy="298.70" r="2.3" fill="#fff" stroke="#111" stroke-width="1.1"/>
<circle cx="374.75" cy="294.80" r="2.3" fill="#fff" stroke="#111" stroke-width="1.1"/>
<circle cx="448.70" cy="295.10" r="2.3" fill="#fff" stroke="#111" stroke-width="1.1"/>
<circle cx="511.60" cy="283.20" r="2.3" fill="#fff" stroke="#111" stroke-width="1.1"/>
<polygon points="508.90,190.40 509.61,191.83 511.18,192.06 510.04,193.17 510.31,194.74 508.90,194.00 507.49,194.74 507.76,193.17 506.62,192.06 508.19,191.83" fill="#111"/>
<polygon points="514.10,190.40 514.81,191.83 516.38,192.06 515.24,193.17 515.51,194.74 514.10,194.00 512.69,194.74 512.96,193.17 511.82,192.06 513.39,191.83" fill="#111"/>
<line x1="321.50" y1="215.70" x2="329.20" y2="215.70" stroke="#111" stroke-width="1.3" />
<rect x="323.3" y="213.5" width="4.4" height="4.4" fill="#111"/>
<line x1="321.50" y1="228.20" x2="329.20" y2="228.20" stroke="#111" stroke-width="1.0" stroke-dasharray="1 1"/>
<circle cx="325.4" cy="228.2" r="2.2" fill="#fff" stroke="#111" stroke-width="1.1"/>
<text x="333.10" y="219.00" font-size="9" font-weight="normal" textLength="26.90" lengthAdjust="spacingAndGlyphs" fill="#111"  stroke="#111" stroke-width="0.3">DMSO</text>
<text x="333.10" y="231.20" font-size="9" font-weight="normal" textLength="26.90" lengthAdjust="spacingAndGlyphs" fill="#111"  stroke="#111" stroke-width="0.3">ML355</text>
<line x1="33.60" y1="385.30" x2="33.60" y2="504.50" stroke="#262626" stroke-width="1.3" />
<line x1="33.00" y1="503.90" x2="219.96" y2="503.90" stroke="#262626" stroke-width="1.3" />
<line x1="31.30" y1="498.40" x2="33.60" y2="498.40" stroke="#262626" stroke-width="1.1" />
<text x="30.80" y="501.00" font-size="8.5" font-weight="bold" text-anchor="end" fill="#111"  stroke="#111" stroke-width="0.25">0</text>
<line x1="31.30" y1="475.90" x2="33.60" y2="475.90" stroke="#262626" stroke-width="1.1" />
<text x="30.80" y="478.50" font-size="8.5" font-weight="bold" text-anchor="end" fill="#111"  stroke="#111" stroke-width="0.25">20</text>
<line x1="31.30" y1="453.40" x2="33.60" y2="453.40" stroke="#262626" stroke-width="1.1" />
<text x="30.80" y="456.00" font-size="8.5" font-weight="bold" text-anchor="end" fill="#111"  stroke="#111" stroke-width="0.25">40</text>
<line x1="31.30" y1="430.90" x2="33.60" y2="430.90" stroke="#262626" stroke-width="1.1" />
<text x="30.80" y="433.50" font-size="8.5" font-weight="bold" text-anchor="end" fill="#111"  stroke="#111" stroke-width="0.25">60</text>
<line x1="31.30" y1="408.40" x2="33.60" y2="408.40" stroke="#262626" stroke-width="1.1" />
<text x="30.80" y="411.00" font-size="8.5" font-weight="bold" text-anchor="end" fill="#111"  stroke="#111" stroke-width="0.25">80</text>
<line x1="31.30" y1="385.90" x2="33.60" y2="385.90" stroke="#262626" stroke-width="1.1" />
<text x="30.80" y="388.50" font-size="8.5" font-weight="bold" text-anchor="end" fill="#111"  stroke="#111" stroke-width="0.25">100</text>
<line x1="33.60" y1="503.90" x2="33.60" y2="506.20" stroke="#262626" stroke-width="1.1" />
<text x="33.60" y="513.80" font-size="8.5" font-weight="bold" text-anchor="middle" fill="#111"  stroke="#111" stroke-width="0.25">0</text>
<line x1="64.56" y1="503.90" x2="64.56" y2="506.20" stroke="#262626" stroke-width="1.1" />
<text x="64.56" y="513.80" font-size="8.5" font-weight="bold" text-anchor="middle" fill="#111"  stroke="#111" stroke-width="0.25">2</text>
<line x1="95.52" y1="503.90" x2="95.52" y2="506.20" stroke="#262626" stroke-width="1.1" />
<text x="95.52" y="513.80" font-size="8.5" font-weight="bold" text-anchor="middle" fill="#111"  stroke="#111" stroke-width="0.25">4</text>
<line x1="126.48" y1="503.90" x2="126.48" y2="506.20" stroke="#262626" stroke-width="1.1" />
<text x="126.48" y="513.80" font-size="8.5" font-weight="bold" text-anchor="middle" fill="#111"  stroke="#111" stroke-width="0.25">6</text>
<line x1="157.44" y1="503.90" x2="157.44" y2="506.20" stroke="#262626" stroke-width="1.1" />
<text x="157.44" y="513.80" font-size="8.5" font-weight="bold" text-anchor="middle" fill="#111"  stroke="#111" stroke-width="0.25">8</text>
<line x1="188.40" y1="503.90" x2="188.40" y2="506.20" stroke="#262626" stroke-width="1.1" />
<text x="188.40" y="513.80" font-size="8.5" font-weight="bold" text-anchor="middle" fill="#111"  stroke="#111" stroke-width="0.25">10</text>
<line x1="219.36" y1="503.90" x2="219.36" y2="506.20" stroke="#262626" stroke-width="1.1" />
<text x="219.36" y="513.80" font-size="8.5" font-weight="bold" text-anchor="middle" fill="#111"  stroke="#111" stroke-width="0.25">12</text>
<text x="136.40" y="531.70" font-size="10.5" font-weight="bold" text-anchor="middle" textLength="66.80" lengthAdjust="spacingAndGlyphs" fill="#111"  stroke="#111" stroke-width="0.25">Time (minute)</text>
<text x="12.30" y="448.10" font-size="10" font-weight="bold" text-anchor="middle" textLength="74.40" lengthAdjust="spacingAndGlyphs" transform="rotate(-90 12.30 448.10)" fill="#111"  stroke="#111" stroke-width="0.25">Aggregation (%)</text>
<polyline points="33.60,498.40 34.78,498.43 36.48,498.47 38.34,498.50 40.00,498.50 41.38,498.48 42.67,498.46 43.90,498.38 45.10,498.20 46.27,497.95 47.39,497.63 48.49,497.19 49.60,496.60 50.75,495.85 51.92,494.97 53.06,493.93 54.10,492.70 55.03,491.25 55.89,489.60 56.67,487.82 57.40,486.00 58.06,484.14 58.66,482.19 59.20,480.18 59.70,478.10 60.16,475.95 60.57,473.73 60.94,471.45 61.30,469.10 61.63,466.67 61.93,464.17 62.22,461.63 62.50,459.10 62.78,456.56 63.06,453.99 63.33,451.45 63.60,449.00 63.88,446.61 64.15,444.27 64.42,442.05 64.70,440.00 64.96,438.26 65.21,436.77 65.48,435.26 65.80,433.50 66.17,431.32 66.58,428.88 67.02,426.42 67.50,424.20 67.99,422.28 68.51,420.53 69.09,418.89 69.80,417.30 70.64,415.74 71.58,414.26 72.63,412.84 73.80,411.50 75.10,410.25 76.52,409.09 78.03,407.98 79.60,406.90 81.22,405.83 82.91,404.79 84.66,403.81 86.50,402.90 88.50,402.07 90.64,401.31 92.74,400.62 94.60,400.00 95.99,399.50 97.06,399.11 98.25,398.71 100.00,398.20 102.54,397.50 105.59,396.68 108.85,395.87 112.00,395.20 114.72,394.74 117.24,394.39 120.15,394.11 124.00,393.80 129.18,393.46 135.30,393.13 141.80,392.81 148.10,392.50 154.10,392.20 160.10,391.91 166.10,391.64 172.10,391.40 178.14,391.21 184.19,391.06 190.23,390.93 196.20,390.80 202.63,390.66 209.36,390.51 215.33,390.39 219.50,390.30" fill="none" stroke="#111" stroke-width="1.7" stroke-linejoin="round" stroke-linecap="round" />
<polyline points="33.60,498.40 34.10,498.40 34.60,498.41 35.10,498.41 35.60,498.42 36.10,498.42 36.60,498.43 37.10,498.43 37.60,498.43 38.10,498.44 38.60,498.44 39.10,498.45 39.60,498.45 40.10,498.46 40.60,498.46 41.10,498.46 41.60,498.47 42.10,498.47 42.60,498.48 43.10,498.48 43.60,498.49 44.10,498.49 44.60,498.50 45.10,498.50 45.60,498.51 46.10,498.51 46.60,498.52 47.10,498.52 47.60,498.53 48.10,498.53 48.60,498.54 49.10,498.54 49.60,498.55 50.10,498.56 50.60,498.56 51.10,498.57 51.60,498.57 52.10,498.58 52.60,498.58 53.10,498.59 53.60,498.59 54.10,498.59 54.60,498.60 55.10,498.60 55.60,498.60 56.10,498.60 56.60,498.61 57.10,498.61 57.60,498.61 58.10,498.61 58.60,498.61 59.10,498.61 59.60,498.61 60.10,498.61 60.60,498.61 61.10,498.61 61.60,498.61 62.10,498.61 62.60,498.61 63.10,498.61 63.60,498.61 64.10,498.60 64.60,498.60 65.10,498.60 65.60,498.60 66.10,498.60 66.60,498.59 67.10,498.59 67.60,498.59 68.10,498.59 68.60,498.58 69.10,498.58 69.60,498.58 70.10,498.57 70.60,498.57 71.10,498.56 71.60,498.56 72.10,498.55 72.60,498.55 73.10,498.54 73.60,498.53 74.10,498.52 74.60,498.51 75.10,498.50 75.60,498.48 76.10,498.47 76.60,498.46 77.10,498.44 77.60,498.42 78.10,498.41 78.60,498.39 79.10,498.37 79.60,498.35 80.10,498.33 80.60,498.31 81.10,498.29 81.60,498.27 82.10,498.24 82.60,498.22 83.10,498.20 83.60,498.17 84.10,498.15 84.60,498.12 85.10,498.10 85.60,498.07 86.10,498.05 86.60,498.03 87.10,498.00 87.60,497.98 88.10,497.96 88.60,497.94 89.10,497.92 89.60,497.90 90.10,497.88 90.60,497.86 91.10,497.83 91.60,497.81 92.10,497.79 92.60,497.76 93.10,497.74 93.60,497.71 94.10,497.68 94.60,497.65 95.10,497.62 95.60,497.59 96.10,497.55 96.60,497.51 97.10,497.48 97.60,497.44 98.10,497.39 98.60,497.34 99.10,497.29 99.60,497.24 100.10,497.19 100.60,497.13 101.10,497.07 101.60,497.01 102.10,496.95 102.60,496.89 103.10,496.82 103.60,496.76 104.10,496.69 104.60,496.63 105.10,496.56 105.60,496.49 106.10,496.42 106.60,496.34 107.10,496.27 107.60,496.19 108.10,496.11 108.60,496.02 109.10,495.94 109.60,495.85 110.10,495.76 110.60,495.67 111.10,495.57 111.60,495.46 112.10,495.36 112.60,495.26 113.10,495.15 113.60,495.03 114.10,494.91 114.60,494.79 115.10,494.67 115.60,494.54 116.10,494.40 116.60,494.26 117.10,494.12 117.60,493.98 118.10,493.83 118.60,493.67 119.10,493.51 119.60,493.35 120.10,493.18 120.60,493.02 121.10,492.84 121.60,492.67 122.10,492.49 122.60,492.31 123.10,492.14 123.60,491.95 124.10,491.76 124.60,491.58 125.10,491.39 125.60,491.20 126.10,491.01 126.60,490.82 127.10,490.63 127.60,490.43 128.10,490.24 128.60,490.05 129.10,489.86 129.60,489.66 130.10,489.47 130.60,489.28 131.10,489.08 131.60,488.89 132.10,488.70 132.60,488.51 133.10,488.32 133.60,488.12 134.10,487.93 134.60,487.73 135.10,487.53 135.60,487.34 136.10,487.14 136.60,486.94 137.10,486.74 137.60,486.54 138.10,486.34 138.60,486.14 139.10,485.93 139.60,485.72 140.10,485.51 140.60,485.30 141.10,485.09 141.60,484.87 142.10,484.66 142.60,484.44 143.10,484.22 143.60,484.00 144.10,483.77 144.60,483.54 145.10,483.31 145.60,483.08 146.10,482.85 146.60,482.60 147.10,482.35 147.60,482.11 148.10,481.86 148.60,481.61 149.10,481.35 149.60,481.09 150.10,480.83 150.60,480.56 151.10,480.30 151.60,480.03 152.10,479.76 152.60,479.48 153.10,479.21 153.60,478.94 154.10,478.66 154.60,478.38 155.10,478.11 155.60,477.83 156.10,477.55 156.60,477.27 157.10,477.00 157.60,476.72 158.10,476.44 158.60,476.17 159.10,475.89 159.60,475.62" fill="none" stroke="#111" stroke-width="1.9" stroke-linejoin="round" stroke-linecap="round" stroke-dasharray="0 3.1" stroke-linecap="round"/>
<polyline points="160.10,475.35 160.60,475.08 161.10,474.82 161.60,474.55 162.10,474.29 162.60,474.02 163.10,473.76 163.60,473.50 164.10,473.24 164.60,472.98 165.10,472.72 165.60,472.46 166.10,472.20 166.60,471.94 167.10,471.68 167.60,471.42 168.10,471.16 168.60,470.91 169.10,470.65 169.60,470.39 170.10,470.13 170.60,469.87 171.10,469.61 171.60,469.36 172.10,469.10 172.60,468.84 173.10,468.58 173.60,468.32 174.10,468.06 174.60,467.80 175.10,467.54 175.60,467.28 176.10,467.02 176.60,466.76 177.10,466.49 177.60,466.23 178.10,465.96 178.60,465.70 179.10,465.43 179.60,465.16 180.10,464.90 180.60,464.63 181.10,464.36 181.60,464.09 182.10,463.81 182.60,463.54 183.10,463.27 183.60,463.00 184.10,462.73 184.60,462.46 185.10,462.19 185.60,461.91 186.10,461.65 186.60,461.38 187.10,461.11 187.60,460.84 188.10,460.57 188.60,460.31 189.10,460.04 189.60,459.78 190.10,459.51 190.60,459.25 191.10,458.98 191.60,458.72 192.10,458.46 192.60,458.19 193.10,457.93 193.60,457.67 194.10,457.40 194.60,457.14 195.10,456.87 195.60,456.61 196.10,456.34 196.60,456.07 197.10,455.81 197.60,455.54 198.10,455.27 198.60,455.00 199.10,454.73 199.60,454.46 200.10,454.18 200.60,453.91 201.10,453.63 201.60,453.34 202.10,453.06 202.60,452.77 203.10,452.48 203.60,452.18 204.10,451.89 204.60,451.59 205.10,451.29 205.60,450.99 206.10,450.68 206.60,450.38 207.10,450.08 207.60,449.78 208.10,449.48 208.60,449.19 209.10,448.91 209.60,448.62 210.10,448.34 210.60,448.08 211.10,447.81 211.60,447.55 212.10,447.32 212.60,447.09 213.10,446.85 213.60,446.65 214.10,446.44 214.60,446.23 215.10,446.04 215.60,445.85 216.10,445.66 216.60,445.48 217.10,445.30 217.60,445.12 218.10,444.94 218.60,444.77 219.10,444.58 219.60,444.40" fill="none" stroke="#111" stroke-width="1.8" stroke-linejoin="round" stroke-linecap="round" stroke-dasharray="0 2.6" stroke-linecap="round"/>
<text x="228.70" y="393.40" font-size="7.7" font-weight="bold" textLength="23.20" lengthAdjust="spacingAndGlyphs" fill="#111"  stroke="#111" stroke-width="0.25">DMSO</text>
<text x="227.40" y="444.80" font-size="7.7" font-weight="bold" textLength="24.50" lengthAdjust="spacingAndGlyphs" fill="#111"  stroke="#111" stroke-width="0.25">ML355</text>
<line x1="300.20" y1="381.00" x2="300.20" y2="511.70" stroke="#262626" stroke-width="1.3" />
<line x1="299.60" y1="511.10" x2="476.20" y2="511.10" stroke="#262626" stroke-width="1.3" />
<line x1="298.20" y1="511.10" x2="300.20" y2="511.10" stroke="#262626" stroke-width="1.0" />
<text x="298.00" y="513.40" font-size="6.0" font-weight="bold" text-anchor="end" textLength="2.95" lengthAdjust="spacingAndGlyphs" fill="#111"  stroke="#111" stroke-width="0.1">0</text>
<line x1="298.20" y1="485.20" x2="300.20" y2="485.20" stroke="#262626" stroke-width="1.0" />
<text x="298.00" y="487.50" font-size="6.0" font-weight="bold" text-anchor="end" textLength="5.90" lengthAdjust="spacingAndGlyphs" fill="#111"  stroke="#111" stroke-width="0.1">20</text>
<line x1="298.20" y1="459.30" x2="300.20" y2="459.30" stroke="#262626" stroke-width="1.0" />
<text x="298.00" y="461.60" font-size="6.0" font-weight="bold" text-anchor="end" textLength="5.90" lengthAdjust="spacingAndGlyphs" fill="#111"  stroke="#111" stroke-width="0.1">40</text>
<line x1="298.20" y1="433.40" x2="300.20" y2="433.40" stroke="#262626" stroke-width="1.0" />
<text x="298.00" y="435.70" font-size="6.0" font-weight="bold" text-anchor="end" textLength="5.90" lengthAdjust="spacingAndGlyphs" fill="#111"  stroke="#111" stroke-width="0.1">60</text>
<line x1="298.20" y1="407.50" x2="300.20" y2="407.50" stroke="#262626" stroke-width="1.0" />
<text x="298.00" y="409.80" font-size="6.0" font-weight="bold" text-anchor="end" textLength="5.90" lengthAdjust="spacingAndGlyphs" fill="#111"  stroke="#111" stroke-width="0.1">80</text>
<line x1="298.20" y1="381.60" x2="300.20" y2="381.60" stroke="#262626" stroke-width="1.0" />
<text x="298.00" y="383.90" font-size="6.0" font-weight="bold" text-anchor="end" textLength="8.85" lengthAdjust="spacingAndGlyphs" fill="#111"  stroke="#111" stroke-width="0.1">100</text>
<rect x="315.6" y="414.7" width="57.9" height="96.40" fill="#a2a2a2" stroke="#111" stroke-width="1.3"/>
<rect x="403.5" y="474.3" width="57.6" height="36.80" fill="#121212" stroke="#111" stroke-width="1.3"/>
<line x1="344.50" y1="414.70" x2="344.50" y2="408.60" stroke="#111" stroke-width="1.3" />
<line x1="329.80" y1="408.60" x2="359.20" y2="408.60" stroke="#111" stroke-width="1.3" />
<line x1="432.30" y1="474.30" x2="432.30" y2="462.90" stroke="#111" stroke-width="1.3" />
<line x1="417.50" y1="462.90" x2="447.30" y2="462.90" stroke="#111" stroke-width="1.3" />
<line x1="344.50" y1="511.10" x2="344.50" y2="513.10" stroke="#111" stroke-width="1.0" />
<line x1="432.50" y1="511.10" x2="432.50" y2="513.10" stroke="#111" stroke-width="1.0" />
<polyline points="344.5,396.8 344.5,394.5 432,394.5 432,396.5" fill="none" stroke="#111" stroke-width="1.3"/>
<polygon points="386.90,385.80 387.72,387.47 389.56,387.73 388.23,389.03 388.55,390.87 386.90,390.00 385.25,390.87 385.57,389.03 384.24,387.73 386.08,387.47" fill="#111"/>
<polygon points="392.10,385.80 392.92,387.47 394.76,387.73 393.43,389.03 393.75,390.87 392.10,390.00 390.45,390.87 390.77,389.03 389.44,387.73 391.28,387.47" fill="#111"/>
<text x="347.60" y="525.40" font-size="10.3" font-weight="bold" text-anchor="middle" textLength="29.00" lengthAdjust="spacingAndGlyphs" fill="#111"  stroke="#111" stroke-width="0.25">DMSO</text>
<text x="431.25" y="525.60" font-size="10.3" font-weight="bold" text-anchor="middle" textLength="31.30" lengthAdjust="spacingAndGlyphs" fill="#111"  stroke="#111" stroke-width="0.25">ML355</text>
<text x="281.40" y="440.40" font-size="10.8" font-weight="bold" text-anchor="middle" textLength="99.60" lengthAdjust="spacingAndGlyphs" transform="rotate(-90 281.40 440.40)" fill="#111"  stroke="#111" stroke-width="0.25">Final Aggregation (%)</text>
</svg></body></html>
